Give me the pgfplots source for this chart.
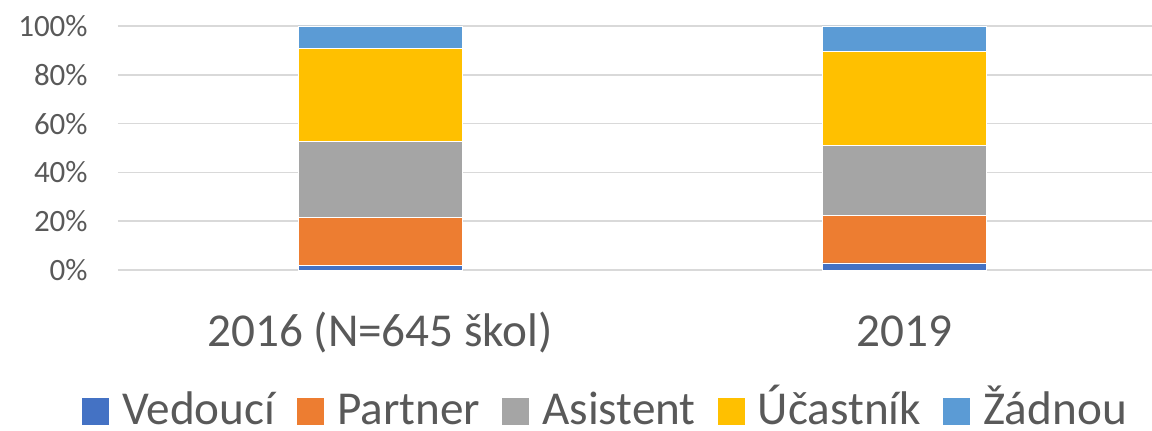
\documentclass[border=0pt]{standalone}
\usepackage{pgfplots}
\pgfplotsset{compat=1.18}
\usepackage{fontspec}
\setmainfont{Carlito}
\definecolor{cV}{HTML}{4472C4}
\definecolor{cP}{HTML}{ED7D31}
\definecolor{cA}{HTML}{A5A5A5}
\definecolor{cU}{HTML}{FFC000}
\definecolor{cZ}{HTML}{5B9BD5}
\definecolor{txt}{HTML}{595959}
\definecolor{gridc}{HTML}{D9D9D9}
\newcommand{\legtxt}[1]{\smash{#1}\rule[-1.4pt]{0pt}{21.4pt}}
\begin{document}
\begin{tikzpicture}
\path[use as bounding box] (-59pt,-80.5pt) rectangle (517pt,135pt);
\begin{axis}[
  at={(0pt,0pt)}, anchor=south west,
  scale only axis, width=517pt, height=122pt,
  ybar stacked, bar width=82pt,
  xmin=-0.5, xmax=1.473, ymin=0, ymax=100,
  xtick={0,1}, xticklabels={2016 (N=645 škol),2019},
  ytick={0,20,40,60,80,100},
  yticklabels={0\%,20\%,40\%,60\%,80\%,100\%},
  axis line style={draw=none}, tick style={draw=none},
  ymajorgrids, grid style={color=gridc, line width=0.8pt},
  yticklabel style={font=\fontsize{15.5}{18}\selectfont, text=txt, anchor=east, inner sep=0pt, xshift=-15pt},
  xticklabel style={font=\fontsize{23.6}{28}\selectfont, text=txt, anchor=base, inner sep=0pt, yshift=-38.5pt},
  legend columns=5,
  legend style={draw=none, fill=none, at={(0.4705,-0.559)}, anchor=center,
    font=\fontsize{23.6}{28.32}\selectfont, text=txt, nodes={inner sep=0pt},
    /tikz/every odd column/.append style={column sep=6.5pt},
    /tikz/every even column/.append style={column sep=11pt}},
  legend image code/.code={\fill[#1,draw=none] (0pt,-9.3pt) rectangle (13.5pt,4.2pt);},
  clip=false,
]
\addplot[fill=cV, draw=white, line width=0.4pt] coordinates {(0,1.8) (1,2.9)};
\addplot[fill=cP, draw=white, line width=0.4pt] coordinates {(0,19.9) (1,19.4)};
\addplot[fill=cA, draw=white, line width=0.4pt] coordinates {(0,31.0) (1,28.7)};
\addplot[fill=cU, draw=white, line width=0.4pt] coordinates {(0,38.0) (1,38.6)};
\addplot[fill=cZ, draw=white, line width=0.4pt] coordinates {(0,9.3) (1,10.4)};
\legend{\legtxt{Vedoucí},\legtxt{Partner},\legtxt{Asistent},\legtxt{Účastník},\legtxt{Žádnou}}
\end{axis}
\end{tikzpicture}
\end{document}
